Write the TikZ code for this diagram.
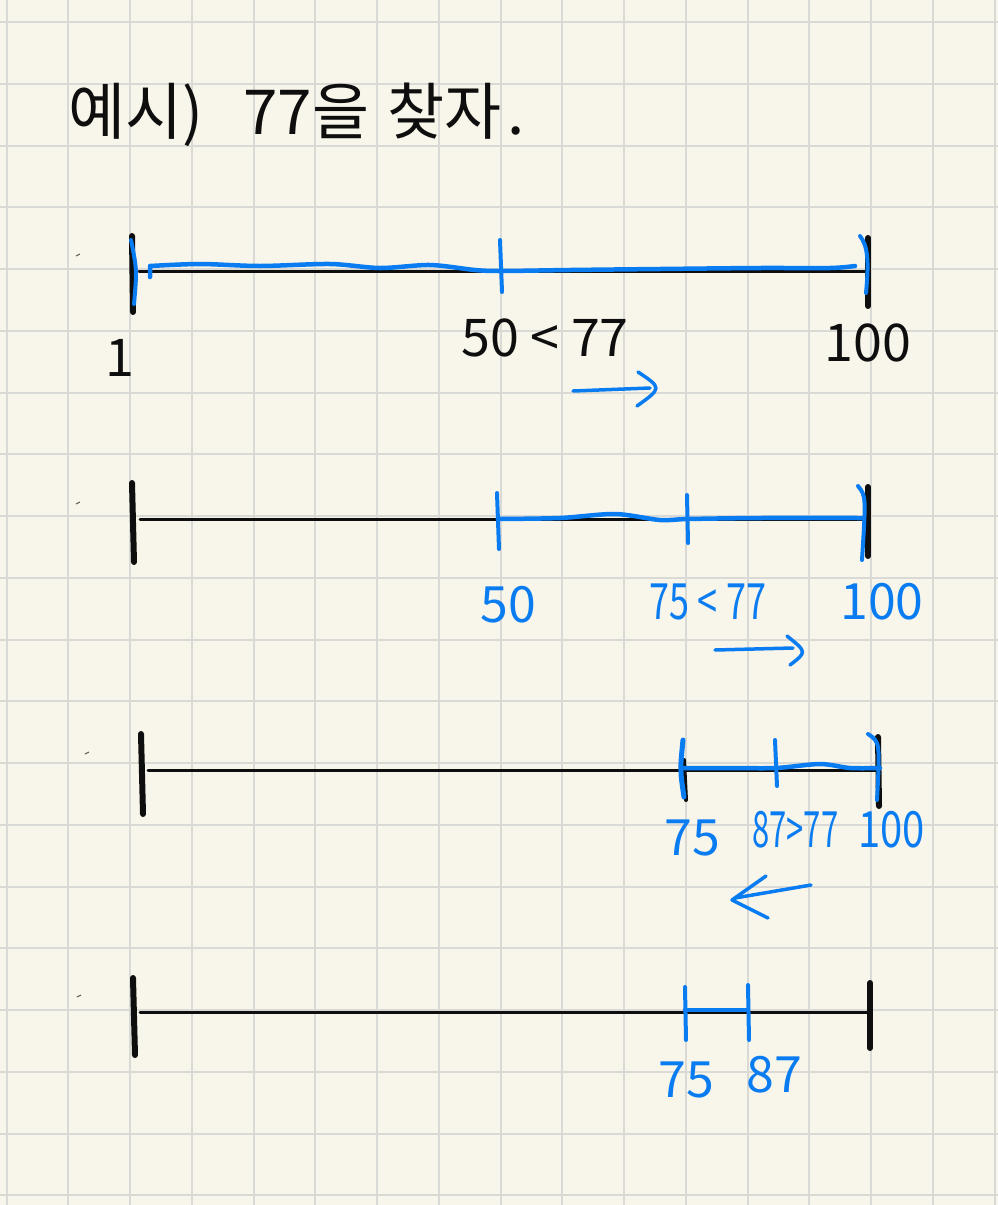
\documentclass[tikz,border=0pt]{standalone}
\usepackage{fontspec}
\newfontfamily\kr{Noto Sans CJK KR}
\definecolor{paper}{HTML}{F8F6EA}
\definecolor{gridc}{HTML}{D9D9D6}
\definecolor{pen}{HTML}{0A7CF2}
\definecolor{inkc}{HTML}{0E0E0E}
\begin{document}
\begin{tikzpicture}[x=1pt,y=-1pt,
  gridline/.style={gridc, line width=2pt},
  axisline/.style={line width=3pt, line cap=round, inkc},
  endtick/.style={line width=6pt, line cap=round, inkc},
  bluestroke/.style={line width=4.5pt, line cap=round, line join=round, pen},
  bluetick/.style={line width=4pt, line cap=round, pen},
  dotmark/.style={line width=1pt, inkc!70},
  blacklab/.style={font=\kr\fontsize{52}{52}\selectfont, inner sep=0pt, text=inkc},
  bluelab/.style={font=\kr\fontsize{50}{50}\selectfont, inner sep=0pt, text=pen},
  titlelab/.style={font=\kr\fontsize{62}{62}\selectfont, inner sep=0pt, text=inkc}]
\fill[paper] (0,0) rectangle (998,1205);
\useasboundingbox (0,0) rectangle (998,1205);
\foreach \i in {0,...,16} \draw[gridline] ({6.5+61.75*\i},0) -- ({6.5+61.75*\i},1205);
\foreach \i in {0,...,19} \draw[gridline] (0,{22+61.75*\i}) -- (998,{22+61.75*\i});

% title
\node[titlelab, anchor=base west] (title) at (68,134) {예시)\hspace{40pt}77을\hspace{18pt}찾자\hspace{6pt}.};

% tiny marks
\draw[dotmark] (76,256) -- (80,254);
\draw[dotmark] (76,504) -- (80,502);
\draw[dotmark] (85,754) -- (89,752);
\draw[dotmark] (77,997) -- (81,995);

% ---------- line 1 ----------
\coordinate (l1a) at (139,271);
\coordinate (l1b) at (868,271);
\draw[axisline] (l1a) -- (l1b);
\draw[endtick] (132,236) -- (133,312);
\draw[endtick] (868,238) -- (868,306);
\draw[bluetick] (131,240) .. controls (137,270) .. (134,304);
\draw[bluestroke] (150,277) -- (150,266)
  plot[smooth] coordinates {(150,266) (200,264) (260,266) (330,264) (380,268) (430,265) (475,270) (501,271) (570,270) (660,269) (760,268) (830,268) (855,266)};
\draw[bluetick] (500,240) -- (502,292);
\draw[bluetick] (860,236) .. controls (868,246) and (869,262) .. (866,293);
\node[blacklab] (one) at (120,358) {1};
\node[blacklab] (cmp1) at (545,338) {50 < 77};
\node[blacklab] (hund1) at (868,343) {100};
\coordinate (ar1s) at (573,391);
\coordinate (ar1e) at (650,388);
\draw[bluestroke, line width=3.5pt] (ar1s) -- (ar1e);
\draw[bluestroke, line width=3.5pt] (638,372) .. controls (662,388) .. (637,406);

% ---------- line 2 ----------
\coordinate (l2a) at (140,519);
\coordinate (l2b) at (868,519);
\draw[axisline] (l2a) -- (l2b);
\draw[endtick] (132,483) -- (134,562);
\draw[endtick] (868,487) -- (868,556);
\draw[bluestroke] plot[smooth] coordinates {(498,519) (560,518) (615,514) (660,520) (688,519) (760,518) (862,518)};
\draw[bluetick] (497,493) -- (499,549);
\draw[bluetick] (687,495) -- (688,543);
\draw[bluetick] (858,486) .. controls (866,496) .. (862,560);
\node[bluelab] (fifty2) at (508,605) {50};
\node[bluelab] (cmp2) at (708,602) {\scalebox{0.72}[1]{75 < 77}};
\node[bluelab] (hund2) at (882,602) {100};
\coordinate (ar2s) at (715,650);
\coordinate (ar2e) at (793,648);
\draw[bluestroke, line width=3.5pt] (ar2s) -- (ar2e);
\draw[bluestroke, line width=3.5pt] (787,636) .. controls (807,652) .. (790,665);

% ---------- line 3 ----------
\coordinate (l3a) at (148,770);
\coordinate (l3b) at (878,770);
\draw[axisline] (l3a) -- (l3b);
\draw[endtick] (141,734) -- (143,814);
\draw[endtick] (878,737) -- (879,806);
\draw[endtick, line width=4pt] (684,760) -- (686,800);
\draw[bluestroke] plot[smooth] coordinates {(683,768) (730,768) (776,768) (820,764) (850,768) (880,768)};
\draw[bluetick, line width=5pt] (683,740) .. controls (680,770) .. (684,797);
\draw[bluetick] (775,740) -- (777,786);
\draw[bluetick] (868,734) .. controls (880,742) .. (877,800);
\node[bluelab] (sf3) at (692,838) {75};
\node[bluelab, anchor=west] (cmp3) at (752,830) {\scalebox{0.62}[1]{87>77}};
\node[bluelab, anchor=west] (hund3) at (858,830) {\scalebox{0.8}[1]{100}};
\coordinate (ar3s) at (811,885);
\coordinate (ar3e) at (735,898);
\draw[bluestroke, line width=3.5pt] (ar3s) -- (ar3e);
\draw[bluestroke, line width=3.5pt] (766,876) -- (732,900) -- (768,918);

% ---------- line 4 ----------
\coordinate (l4a) at (140,1012);
\coordinate (l4b) at (870,1012);
\draw[axisline] (l4a) -- (l4b);
\draw[endtick] (133,978) -- (135,1055);
\draw[endtick] (870,983) -- (870,1048);
\draw[bluestroke] (685,1010) -- (748,1010);
\draw[bluetick] (685,987) -- (686,1040);
\draw[bluetick] (748,985) -- (749,1040);
\node[bluelab] (sf4) at (686,1080) {75};
\node[bluelab] (ee4) at (774,1075) {87};
\end{tikzpicture}
\end{document}
